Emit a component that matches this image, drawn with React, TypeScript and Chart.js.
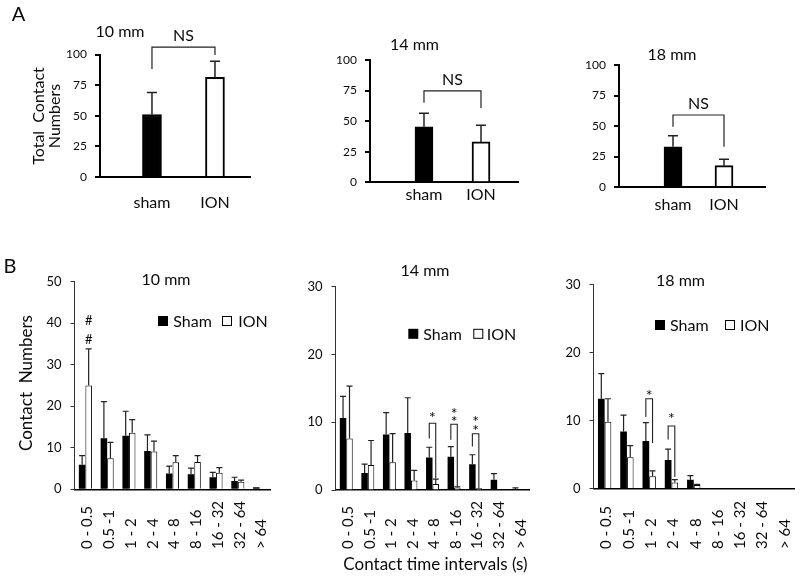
import React, { useEffect, useRef } from 'react';
import { Chart, registerables } from 'chart.js';

Chart.register(...registerables);

const FONT = 'Lato, "Open Sans", "DejaVu Sans", sans-serif';
const INK = '#0a0a0a';

// ---------- Panel A: total contact numbers ----------
const groupsA = ['sham', 'ION'];
const yTicksA = [0, 25, 50, 75, 100];
const totalA10 = [51, 81.4];
const totalA10Err = [69, 94.4];
const totalA14 = [45.4, 33];
const totalA14Err = [56.4, 46.6];
const totalA18 = [33, 17.5];
const totalA18Err = [42, 22.7];
// NS brackets: [top, left foot, right foot]
const nsA10 = [106, 88.2, 99.6];
const nsA14 = [74.7, 65.1, 60.8];
const nsA18 = [59, 49.4, 33];

// ---------- Panel B: contact numbers per time interval ----------
const intervals = ['0 - 0.5', '0.5 -1', '1 - 2', '2 - 4', '4 - 8', '8 - 16', '16 - 32', '32 - 64', '> 64'];
const seriesNames = ['Sham', 'ION'];
const yTicksB10 = [0, 10, 20, 30, 40, 50];
const yTicksB = [0, 10, 20, 30];
const sham10 = [5.9, 12.3, 12.9, 9.2, 3.8, 3.6, 2.9, 2.0, 0.5];
const sham10Err = [8.1, 21.1, 18.8, 13.1, 5.6, 5.1, 4.1, 2.9, 0.5];
const ion10 = [25.0, 7.5, 13.6, 9.1, 6.5, 6.6, 4.0, 1.8, 0];
const ion10Err = [33.8, 11.3, 16.8, 11.6, 8.1, 8.1, 5.2, 2.2, 0];
const sham14 = [10.6, 2.5, 8.2, 8.4, 4.8, 4.9, 3.8, 1.5, 0.15];
const sham14Err = [13.8, 3.8, 11.4, 13.6, 6.3, 6.4, 5.2, 2.4, 0.3];
const ion14 = [7.6, 3.7, 4.1, 1.4, 0.9, 0.35, 0.25, 0, 0];
const ion14Err = [15.3, 7.3, 8.3, 2.9, 1.6, 0.45, 0.25, 0, 0];
const sham18 = [13.2, 8.4, 7.0, 4.2, 1.3, 0, 0, 0, 0];
const sham18Err = [16.9, 10.8, 9.7, 5.8, 1.9, 0, 0, 0, 0];
const ion18 = [9.8, 4.6, 1.8, 0.9, 0.5, 0, 0, 0, 0];
const ion18Err = [13.2, 6.3, 2.6, 1.3, 0.6, 0, 0, 0, 0];

type SigMark = { cat: number; bracket?: number[]; onSeries?: number; symbol: string; at: number[] };
const sig10: SigMark[] = [{ cat: 0, onSeries: 1, symbol: '#', at: [40.7, 36.1] }];
const sig14: SigMark[] = [
  { cat: 4, bracket: [9.85, 7.6, 1.7], symbol: '*', at: [11.2] },
  { cat: 5, bracket: [9.7, 7.4, 0.5], symbol: '*', at: [11.8, 10.7] },
  { cat: 6, bracket: [8.3, 6.4, 0.25], symbol: '*', at: [10.6, 9.35] },
];
const sig18: SigMark[] = [
  { cat: 2, bracket: [13.2, 10.5, 6.7], symbol: '*', at: [14.3] },
  { cat: 3, bracket: [9.2, 7.2, 1.7], symbol: '*', at: [10.8] },
];

type Box = { x: number; y: number; w: number; h: number };
type Area = { left: number; right: number; top: number; bottom: number };
type TextItem = { text: string; x: number; y: number; size: number; rotate?: boolean; align?: CanvasTextAlign };

function pinLayout(box: Box, area: Area) {
  return { padding: { left: 0, top: area.top - box.y, right: box.x + box.w - area.right, bottom: 0 } };
}

function drawText(ctx: CanvasRenderingContext2D, box: Box, t: TextItem) {
  ctx.save();
  ctx.font = `${t.size}px ${FONT}`;
  ctx.fillStyle = INK;
  ctx.textAlign = t.align ?? 'center';
  ctx.textBaseline = 'middle';
  ctx.translate(t.x - box.x, t.y - box.y);
  if (t.rotate) ctx.rotate(-Math.PI / 2);
  ctx.fillText(t.text, 0, 0);
  ctx.restore();
}

function drawErrorBars(chart: any, errs: number[][], cap: number, lw: number) {
  const ctx = chart.ctx;
  const ys = chart.scales.y;
  ctx.save();
  ctx.strokeStyle = '#222';
  ctx.lineWidth = lw;
  errs.forEach((err, d) => {
    const meta = chart.getDatasetMeta(d);
    const ds = chart.data.datasets[d].data;
    meta.data.forEach((el: any, i: number) => {
      const raw = ds[i];
      const v = typeof raw === 'number' ? raw : raw.y;
      if (!(err[i] > v)) return;
      const top = ys.getPixelForValue(err[i]);
      ctx.beginPath();
      ctx.moveTo(el.x, el.y);
      ctx.lineTo(el.x, top);
      ctx.moveTo(el.x - cap / 2, top);
      ctx.lineTo(el.x + cap / 2, top);
      ctx.stroke();
    });
  });
  ctx.restore();
}

function drawBracket(ctx: CanvasRenderingContext2D, ys: any, x1: number, x2: number, b: number[], lw: number) {
  const top = ys.getPixelForValue(b[0]);
  ctx.save();
  ctx.strokeStyle = '#222';
  ctx.lineWidth = lw;
  ctx.beginPath();
  ctx.moveTo(x1, ys.getPixelForValue(b[1]));
  ctx.lineTo(x1, top);
  ctx.lineTo(x2, top);
  ctx.lineTo(x2, ys.getPixelForValue(b[2]));
  ctx.stroke();
  ctx.restore();
  return top;
}

type PanelASpec = {
  box: Box; area: Area; values: number[]; errs: number[]; ns: number[];
  xMin: number; xMax: number; barThickness: number; labelPad: number; texts: TextItem[];
};

function makePanelA(canvas: HTMLCanvasElement, s: PanelASpec) {
  const overlay = {
    id: 'overlayA',
    afterDraw(chart: any) {
      const ctx = chart.ctx;
      drawErrorBars(chart, [s.errs], 10, 1.5);
      const meta = chart.getDatasetMeta(0);
      const x1 = meta.data[0].x;
      const x2 = meta.data[1].x;
      const top = drawBracket(ctx, chart.scales.y, x1, x2, s.ns, 1.2);
      ctx.save();
      ctx.font = `16px ${FONT}`;
      ctx.fillStyle = INK;
      ctx.textAlign = 'center';
      ctx.textBaseline = 'alphabetic';
      ctx.fillText('NS', (x1 + x2) / 2, top - 6);
      ctx.restore();
      s.texts.forEach((t) => drawText(ctx, s.box, t));
    },
  };
  return new Chart(canvas, {
    type: 'bar',
    data: {
      datasets: [
        {
          data: s.values.map((v, i) => ({ x: i + 1, y: v })),
          backgroundColor: ['#000', '#fff'],
          borderColor: '#000',
          borderWidth: 2,
          barThickness: s.barThickness,
        },
      ],
    },
    options: {
      animation: false,
      responsive: false,
      maintainAspectRatio: false,
      layout: pinLayout(s.box, s.area),
      plugins: { legend: { display: false }, tooltip: { enabled: false }, title: { display: false } },
      scales: {
        x: {
          type: 'linear',
          min: s.xMin,
          max: s.xMax,
          offset: false,
          z: 1,
          afterBuildTicks: (sc: any) => {
            sc.ticks = groupsA.map((_, i) => ({ value: i + 1 }));
          },
          ticks: {
            autoSkip: false,
            maxRotation: 0,
            minRotation: 0,
            padding: s.labelPad,
            color: INK,
            font: { family: FONT, size: 16 },
            callback: (v: any) => groupsA[Number(v) - 1] ?? '',
          },
          grid: { display: false, drawTicks: false },
          border: { display: true, color: '#000', width: 2 },
          afterFit: (sc: any) => {
            sc.height = s.box.y + s.box.h - s.area.bottom;
          },
        },
        y: {
          type: 'linear',
          min: 0,
          max: 100,
          z: 1,
          afterBuildTicks: (sc: any) => {
            sc.ticks = yTicksA.map((v) => ({ value: v }));
          },
          ticks: { padding: 8, color: INK, font: { family: FONT, size: 12 } },
          grid: { display: true, drawOnChartArea: false, drawTicks: true, tickLength: 5, color: '#000', lineWidth: 2 },
          border: { display: true, color: '#000', width: 2 },
          afterFit: (sc: any) => {
            sc.width = s.area.left - s.box.x;
          },
        },
      },
    } as any,
    plugins: [overlay],
  });
}

type PanelBSpec = {
  box: Box; area: Area; sham: number[]; shamErr: number[]; ion: number[]; ionErr: number[];
  yTicks: number[]; sig: SigMark[]; legendY: number; legendX: number[]; texts: TextItem[];
};

function makePanelB(canvas: HTMLCanvasElement, s: PanelBSpec) {
  const overlay = {
    id: 'overlayB',
    afterDraw(chart: any) {
      const ctx = chart.ctx;
      const ys = chart.scales.y;
      const xs = chart.scales.x;
      drawErrorBars(chart, [s.shamErr, s.ionErr], 6, 1.2);
      const m0 = chart.getDatasetMeta(0);
      const m1 = chart.getDatasetMeta(1);
      // significance marks
      s.sig.forEach((m) => {
        let cx: number;
        if (m.bracket) {
          const x1 = m0.data[m.cat].x;
          const x2 = m1.data[m.cat].x;
          drawBracket(ctx, ys, x1, x2, m.bracket, 1.1);
          cx = (x1 + x2) / 2;
        } else {
          cx = (m.onSeries === 1 ? m1 : m0).data[m.cat].x;
        }
        const size = m.symbol === '*' ? 16 : 13;
        ctx.save();
        ctx.font = `${size}px ${FONT}`;
        ctx.fillStyle = INK;
        ctx.textAlign = 'center';
        ctx.textBaseline = 'alphabetic';
        const off = m.symbol === '*' ? 0.58 * size : 0.36 * size;
        m.at.forEach((v) => ctx.fillText(m.symbol, cx, ys.getPixelForValue(v) + off));
        ctx.restore();
      });
      // rotated category labels, anchored at their start
      ctx.save();
      ctx.font = `15px ${FONT}`;
      ctx.fillStyle = INK;
      ctx.textAlign = 'left';
      ctx.textBaseline = 'middle';
      intervals.forEach((lab, i) => {
        ctx.save();
        ctx.translate(xs.getPixelForValue(i) + 2, 549 - s.box.y);
        ctx.rotate(-Math.PI / 2);
        ctx.fillText(lab, 0, 0);
        ctx.restore();
      });
      ctx.restore();
      // legend
      ctx.save();
      const ly = s.legendY - s.box.y;
      chart.data.datasets.forEach((ds: any, d: number) => {
        const bx = s.legendX[d * 2] - s.box.x;
        const tx = s.legendX[d * 2 + 1] - s.box.x;
        ctx.fillStyle = ds.backgroundColor;
        ctx.fillRect(bx, ly - 5, 10, 10);
        if (d === 1) {
          ctx.strokeStyle = '#000';
          ctx.lineWidth = 1;
          ctx.strokeRect(bx + 0.5, ly - 4.5, 9, 9);
        }
        ctx.fillStyle = INK;
        ctx.font = `16px ${FONT}`;
        ctx.textAlign = 'left';
        ctx.textBaseline = 'middle';
        ctx.fillText(ds.label, tx, ly + 1);
      });
      ctx.restore();
      s.texts.forEach((t) => drawText(ctx, s.box, t));
    },
  };
  return new Chart(canvas, {
    type: 'bar',
    data: {
      labels: intervals,
      datasets: [
        {
          label: seriesNames[0],
          data: s.sham,
          backgroundColor: '#000',
          borderColor: '#000',
          borderWidth: 0,
          barPercentage: 1,
          categoryPercentage: 0.6,
        },
        {
          label: seriesNames[1],
          data: s.ion,
          backgroundColor: '#fff',
          borderColor: '#000',
          borderWidth: 1,
          barPercentage: 1,
          categoryPercentage: 0.6,
        },
      ],
    },
    options: {
      animation: false,
      responsive: false,
      maintainAspectRatio: false,
      layout: pinLayout(s.box, s.area),
      plugins: { legend: { display: false }, tooltip: { enabled: false }, title: { display: false } },
      scales: {
        x: {
          type: 'category',
          offset: true,
          z: 1,
          ticks: { display: false },
          grid: { display: false, drawTicks: false },
          border: { display: true, color: '#000', width: 1.5 },
          afterFit: (sc: any) => {
            sc.height = s.box.y + s.box.h - s.area.bottom;
          },
        },
        y: {
          type: 'linear',
          min: 0,
          max: s.yTicks[s.yTicks.length - 1],
          z: 1,
          afterBuildTicks: (sc: any) => {
            sc.ticks = s.yTicks.map((v) => ({ value: v }));
          },
          ticks: { padding: 9, color: INK, font: { family: FONT, size: 13 } },
          grid: { display: true, drawOnChartArea: false, drawTicks: true, tickLength: 4, color: '#333', lineWidth: 1 },
          border: { display: true, color: '#333', width: 1 },
          afterFit: (sc: any) => {
            sc.width = s.area.left - s.box.x;
          },
        },
      },
    } as any,
    plugins: [overlay],
  });
}

const specA: PanelASpec[] = [
  {
    box: { x: 0, y: 0, w: 265, h: 215 },
    area: { left: 100, right: 250, top: 54.5, bottom: 177 },
    values: totalA10, errs: totalA10Err, ns: nsA10,
    xMin: 0.175, xMax: 2.556, barThickness: 19, labelPad: 16,
    texts: [
      { text: 'A', x: 18.5, y: 15, size: 20 },
      { text: '10 mm', x: 120, y: 32, size: 16 },
      { text: 'Total  Contact', x: 38.5, y: 116, size: 16, rotate: true },
      { text: 'Numbers', x: 55, y: 116, size: 16, rotate: true },
    ],
  },
  {
    box: { x: 265, y: 20, w: 270, h: 195 },
    area: { left: 370, right: 518, top: 60, bottom: 182.3 },
    values: totalA14, errs: totalA14Err, ns: nsA14,
    xMin: 0.053, xMax: 2.649, barThickness: 18, labelPad: 3,
    texts: [{ text: '14 mm', x: 414.5, y: 45, size: 16 }],
  },
  {
    box: { x: 535, y: 40, w: 265, h: 175 },
    area: { left: 619, right: 765, top: 65, bottom: 187 },
    values: totalA18, errs: totalA18Err, ns: nsA18,
    xMin: -0.059, xMax: 2.804, barThickness: 18, labelPad: 8,
    texts: [{ text: '18 mm', x: 672, y: 55, size: 16 }],
  },
];

const specB: PanelBSpec[] = [
  {
    box: { x: 0, y: 215, w: 280, h: 363 },
    area: { left: 74.5, right: 270.5, top: 281.7, bottom: 489.3 },
    sham: sham10, shamErr: sham10Err, ion: ion10, ionErr: ion10Err,
    yTicks: yTicksB10, sig: sig10, legendY: 321, legendX: [158, 173.3, 222, 238.3],
    texts: [
      { text: 'B', x: 10, y: 266.5, size: 20 },
      { text: '10 mm', x: 166, y: 280, size: 16 },
      { text: 'Contact  Numbers', x: 27, y: 383, size: 17, rotate: true },
    ],
  },
  {
    box: { x: 280, y: 215, w: 260, h: 363 },
    area: { left: 335.5, right: 529.5, top: 286.5, bottom: 490 },
    sham: sham14, shamErr: sham14Err, ion: ion14, ionErr: ion14Err,
    yTicks: yTicksB, sig: sig14, legendY: 333.8, legendX: [408.3, 423.3, 473.3, 486.7],
    texts: [
      { text: '14 mm', x: 425, y: 271, size: 16 },
      { text: 'Contact time intervals (s)', x: 435.5, y: 565, size: 17 },
    ],
  },
  {
    box: { x: 540, y: 215, w: 260, h: 363 },
    area: { left: 593.5, right: 794, top: 284.5, bottom: 488.5 },
    sham: sham18, shamErr: sham18Err, ion: ion18, ionErr: ion18Err,
    yTicks: yTicksB, sig: sig18, legendY: 325, legendX: [655, 670, 725, 740],
    texts: [{ text: '18 mm', x: 680.5, y: 281, size: 16 }],
  },
];

function ChartCanvas({ box, make }: { box: Box; make: (c: HTMLCanvasElement) => Chart }) {
  const ref = useRef<HTMLCanvasElement | null>(null);
  useEffect(() => {
    if (!ref.current) return;
    const chart = make(ref.current);
    return () => chart.destroy();
  }, []);
  return (
    <canvas
      ref={ref}
      width={box.w}
      height={box.h}
      style={{ position: 'absolute', left: box.x, top: box.y, width: box.w, height: box.h }}
    />
  );
}

export default function App() {
  return (
    <div style={{ position: 'fixed', left: 0, top: 0, width: 800, height: 578, background: '#fff', overflow: 'hidden' }}>
      {specA.map((s, i) => (
        <ChartCanvas key={'a' + i} box={s.box} make={(c) => makePanelA(c, s)} />
      ))}
      {specB.map((s, i) => (
        <ChartCanvas key={'b' + i} box={s.box} make={(c) => makePanelB(c, s)} />
      ))}
    </div>
  );
}
